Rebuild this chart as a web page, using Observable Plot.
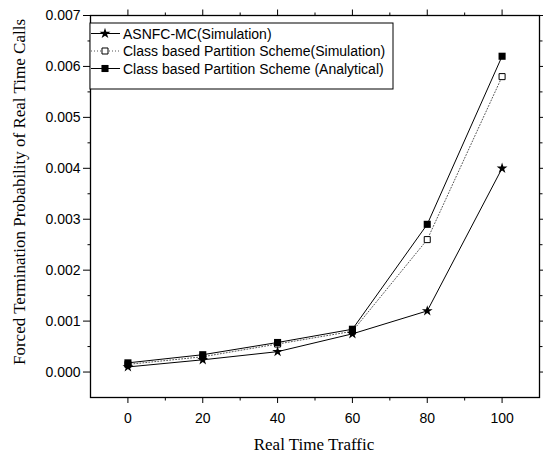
<!DOCTYPE html>
<html>
<head>
<meta charset="utf-8">
<script src="https://cdn.jsdelivr.net/npm/d3@7"></script>
<script src="https://cdn.jsdelivr.net/npm/@observablehq/plot@0.6"></script>
<style>
  html, body { margin: 0; padding: 0; background: #fff; }
  #chart { position: relative; width: 543px; height: 455px; }
  svg { display: block; }
</style>
</head>
<body>
<div id="chart"></div>
<script>
// ---- data ----
const traffic = [0, 20, 40, 60, 80, 100];
const asnfcSim = [0.0001, 0.00024, 0.0004, 0.00075, 0.0012, 0.004];
const classSim = [0.00015, 0.0003, 0.00055, 0.0008, 0.0026, 0.0058];
const classAna = [0.00018, 0.00034, 0.00058, 0.00084, 0.0029, 0.0062];
const seriesNames = [
  "ASNFC-MC(Simulation)",
  "Class based Partition Scheme(Simulation)",
  "Class based Partition Scheme (Analytical)"
];
const xDomain = [-10, 110];
const yDomain = [-0.0005, 0.007];
const xMajor = [0, 20, 40, 60, 80, 100];
const xMinor = [10, 30, 50, 70, 90];
const yMajor = [0, 0.001, 0.002, 0.003, 0.004, 0.005, 0.006, 0.007];
const yMinor = [0.0005, 0.0015, 0.0025, 0.0035, 0.0045, 0.0055, 0.0065];
const xTitle = "Real Time Traffic";
const yTitle = "Forced Termination Probability of Real Time Calls";

const rows = (vals, s) => traffic.map((t, i) => ({x: t, y: vals[i], s}));
const dA = rows(asnfcSim, seriesNames[0]);
const dS = rows(classSim, seriesNames[1]);
const dN = rows(classAna, seriesNames[2]);

const sans = "'Liberation Sans', Arial, sans-serif";
const serif = "'Liberation Serif', 'Times New Roman', serif";
const fmt = d3.format(".3f");

// outward tick marks: a custom line symbol placed on the frame edge through the scales
const lineSym = (dx, dy) => ({draw(ctx) { ctx.moveTo(0, 0); ctx.lineTo(dx, dy); }});
const tickOpts = {r: 1, fill: "none", stroke: "black", strokeWidth: 1};
const ticksBottom = (vals, len) => Plot.dot(vals, {x: d => d, y: () => yDomain[0], symbol: lineSym(0, len), ...tickOpts});
const ticksTop = (vals, len) => Plot.dot(vals, {x: d => d, y: () => yDomain[1], symbol: lineSym(0, -len), ...tickOpts});
const ticksLeft = (vals, len) => Plot.dot(vals, {y: d => d, x: () => xDomain[0], symbol: lineSym(-len, 0), ...tickOpts});
const ticksRight = (vals, len) => Plot.dot(vals, {y: d => d, x: () => xDomain[1], symbol: lineSym(len, 0), ...tickOpts});

const svg = Plot.plot({
  width: 543,
  height: 455,
  marginLeft: 90,
  marginRight: 4,
  marginTop: 15,
  marginBottom: 58,
  style: {fontFamily: sans, fontSize: "14px", color: "black", background: "white"},
  x: {domain: xDomain},
  y: {domain: yDomain},
  marks: [
    Plot.axisX(xMajor, {anchor: "bottom", tickSize: 6, tickPadding: 10, tickFormat: d => String(d), label: null, fontSize: 14}),
    Plot.axisY(yMajor, {anchor: "left", tickSize: 7, tickPadding: 3, tickFormat: fmt, label: null, fontSize: 14}),
    ticksBottom(xMinor, 3),
    ticksTop(xMajor, 6),
    ticksTop(xMinor, 3),
    ticksLeft(yMinor, 3),
    ticksRight(yMajor, 6),
    ticksRight(yMinor, 3),
    Plot.frame({stroke: "black", strokeWidth: 1.3}),
    // series
    Plot.line(dS, {x: "x", y: "y", stroke: "#555", strokeWidth: 1, strokeDasharray: "1,2"}),
    Plot.line(dA, {x: "x", y: "y", stroke: "black", strokeWidth: 1}),
    Plot.line(dN, {x: "x", y: "y", stroke: "black", strokeWidth: 1}),
    Plot.dot(dS, {x: "x", y: "y", symbol: "square", r: 3.4, fill: "white", stroke: "black", strokeWidth: 1}),
    Plot.dot(dN, {x: "x", y: "y", symbol: "square", r: 4.0, fill: "black", stroke: "none"}),
    Plot.dot(dA, {x: "x", y: "y", symbol: "star", r: 3.4, fill: "black", stroke: "none"})
  ]
});

const root = d3.select(svg);

// axis titles
root.append("text")
  .attr("x", 314).attr("y", 450)
  .attr("text-anchor", "middle")
  .attr("font-family", serif).attr("font-size", 17).attr("fill", "black")
  .text(xTitle);
root.append("text")
  .attr("transform", "translate(25,192) rotate(-90)")
  .attr("text-anchor", "middle")
  .attr("font-family", serif).attr("font-size", 17).attr("fill", "black")
  .text(yTitle);

// legend
const lg = root.append("g").attr("transform", "translate(90,23)");
lg.append("rect").attr("x", 0).attr("y", 0).attr("width", 303).attr("height", 66)
  .attr("fill", "white").attr("stroke", "black").attr("stroke-width", 1);
const legendItems = [
  {name: seriesNames[0], sym: d3.symbolStar, r: 3.4, fill: "black", stroke: "none", dash: null, lstroke: "black"},
  {name: seriesNames[1], sym: d3.symbolSquare, r: 3.4, fill: "white", stroke: "black", dash: "1,2", lstroke: "#555"},
  {name: seriesNames[2], sym: d3.symbolSquare, r: 4.0, fill: "black", stroke: "none", dash: null, lstroke: "black"}
];
legendItems.forEach((it, i) => {
  const cy = 10.5 + i * 17.5;
  const g = lg.append("g").attr("transform", `translate(0,${cy})`);
  g.append("line").attr("x1", 1).attr("x2", 30).attr("y1", 0).attr("y2", 0)
    .attr("stroke", it.lstroke).attr("stroke-width", 1)
    .attr("stroke-dasharray", it.dash);
  g.append("path").attr("transform", "translate(15,0)")
    .attr("d", d3.symbol(it.sym, Math.PI * it.r * it.r)())
    .attr("fill", it.fill).attr("stroke", it.stroke);
  g.append("text").attr("x", 33).attr("y", 5)
    .attr("text-anchor", "start")
    .attr("font-family", sans).attr("font-size", 14).attr("fill", "black")
    .text(it.name);
});

document.getElementById("chart").appendChild(svg);
</script>
</body>
</html>
